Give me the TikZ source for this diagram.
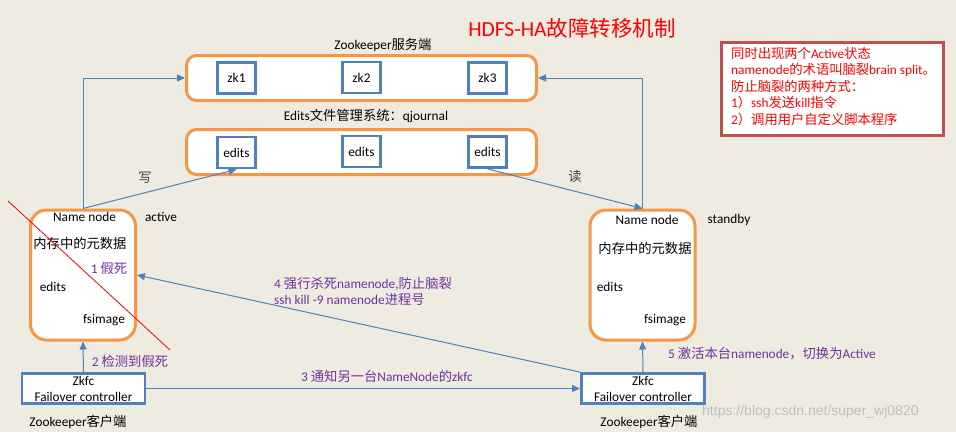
\documentclass[tikz,border=0pt]{standalone}
\usepackage{fontspec}
\setmainfont{Carlito}
\newfontfamily\cjk{Noto Sans CJK SC}
\newfontfamily\wmfont{Liberation Sans}
\newcommand{\zh}[1]{{\cjk #1}}
\usetikzlibrary{arrows.meta,positioning,calc}
\definecolor{bgtan}{HTML}{EEECE1}
\definecolor{hdorange}{HTML}{F79646}
\definecolor{hdblue}{HTML}{4F81BD}
\definecolor{hdpurple}{HTML}{7030A0}
\definecolor{notered}{HTML}{C0504D}

\begin{document}
\begin{tikzpicture}[x=1pt, y=-1pt,
  >={Triangle[length=8pt,width=7pt]},
  panel/.style={draw=hdorange, line width=3pt, fill=white, rounded corners=10pt, minimum width=350pt, minimum height=45pt},
  cell/.style={draw=hdblue, line width=2.8pt, fill=white, minimum width=38pt, minimum height=31pt, inner sep=0pt, font=\fontsize{13.3}{16}\selectfont},
  nnbox/.style={draw=hdorange, line width=3pt, fill=white, rounded corners=16pt, minimum width=105pt, minimum height=130pt},
  fcbox/.style={draw=hdblue, line width=2.8pt, fill=white, minimum width=123pt, minimum height=30pt, align=center, inner sep=0pt, font=\fontsize{13.3}{16}\selectfont},
  lab/.style={inner sep=0pt, font=\fontsize{13.3}{16}\selectfont},
  hint/.style={lab, text=hdpurple},
  link/.style={draw=hdblue, line width=1pt}]
  \fill[bgtan] (0,0) rectangle (956,432);
  \useasboundingbox (0,0) rectangle (956,432);

  % title and note
  \node[lab, text=red, font=\fontsize{21.5}{24}\selectfont] (title) at (572,28) {HDFS-HA\zh{故障转移机制}};
  \node[draw=notered, line width=2.8pt, fill=white, minimum width=222pt, minimum height=93pt] (note) at (832.5,89) {};
  \node[lab, text=red, anchor=north west, align=left, font=\fontsize{13.3}{16.4}\selectfont] (notetext) at (731,47)
    {\zh{同时出现两个}Active\zh{状态}\\ namenode\zh{的术语叫脑裂}brain split\zh{。}\\ \zh{防止脑裂的两种方式：}\\ 1\zh{）}ssh\zh{发送}kill\zh{指令}\\ 2\zh{）调用用户自定义脚本程序}};

  % zookeeper servers
  \node[lab] (zklab) at (383,45) {Zookeeper\zh{服务端}};
  \node[panel] (zkbox) at (361.5,78) {};
  \node[cell] (zk1) at (236.5,78) {zk1};
  \node[cell] (zk2) at (361.5,77.5) {zk2};
  \node[cell] (zk3) at (487.5,78) {zk3};

  % qjournal
  \node[lab] (edlab) at (366,116) {Edits\zh{文件管理系统：}qjournal};
  \node[panel] (edbox) at (361.5,152) {};
  \node[cell] (ed1) at (236.5,152.5) {edits};
  \node[cell] (ed2) at (361.5,151.5) {edits};
  \node[cell] (ed3) at (487.5,152) {edits};

  % name nodes
  \node[nnbox] (nnA) at (83,275) {};
  \node[lab] (nnAname) at (84.5,217) {Name node};
  \node[lab] (nnAmeta) at (80,243) {\zh{内存中的元数据}};
  \node[hint] (dead) at (109,268) {1 \zh{假死}};
  \node[lab] (nnAedits) at (53,287) {edits};
  \node[lab] (nnAfs) at (104,320) {fsimage};
  \node[lab] (active) at (161,217) {active};

  \node[nnbox] (nnB) at (642.5,275) {};
  \node[lab] (nnBname) at (647,220) {Name node};
  \node[lab] (nnBmeta) at (645,248) {\zh{内存中的元数据}};
  \node[lab] (nnBedits) at (610,287) {edits};
  \node[lab] (nnBfs) at (665,320) {fsimage};
  \node[lab] (standby) at (729,220) {standby};

  % failover controllers
  \node[fcbox] (fcA) at (83.5,388.5) {Zkfc\\Failover controller};
  \node[fcbox] (fcB) at (643,388.5) {Zkfc\\Failover controller};
  \node[lab] (clA) at (78,422) {Zookeeper\zh{客户端}};
  \node[lab] (clB) at (649,422) {Zookeeper\zh{客户端}};

  % connectors
  \draw[link,->] (nnA.north) |- (zkbox.west);
  \draw[link,->] (nnB.north) |- (zkbox.east);
  \draw[link,->] (nnA.north) -- (ed1.south);
  \draw[link,->] (ed3.south) -- (nnB.north);
  \draw[link,->] (fcA.north) -- (nnA.south);
  \draw[link,->] (fcA.east) -- (fcB.west);
  \draw[link,->] (fcB.north west) -- (nnA.east);
  \draw[link,->] (fcB.north) -- (nnB.south);

  \node[lab, text=black!75] (write) at (145,178) {\zh{写}};
  \node[lab, text=black!75] (read) at (575,176) {\zh{读}};
  \node[hint] (detect) at (130,361) {2 \zh{检测到假死}};
  \node[hint] (notify) at (387,376) {3 \zh{通知另一台}NameNode\zh{的}zkfc};
  \node[hint, anchor=west, align=left] (fence) at (274,291) {4 \zh{强行杀死}namenode,\zh{防止脑裂}\\ ssh kill -9 namenode\zh{进程号}};
  \node[hint, anchor=west] (promote) at (668,354) {5 \zh{激活本台}namenode\zh{，切换为}Active};

  % crossed out
  \draw[red, line width=0.8pt] (8,201) -- (170,350);

  \node[lab, anchor=west, text=black!25, font=\wmfont\fontsize{14}{16}\selectfont] (mark) at (702,412) {https://blog.csdn.net/super\_wj0820};
\end{tikzpicture}
\end{document}
